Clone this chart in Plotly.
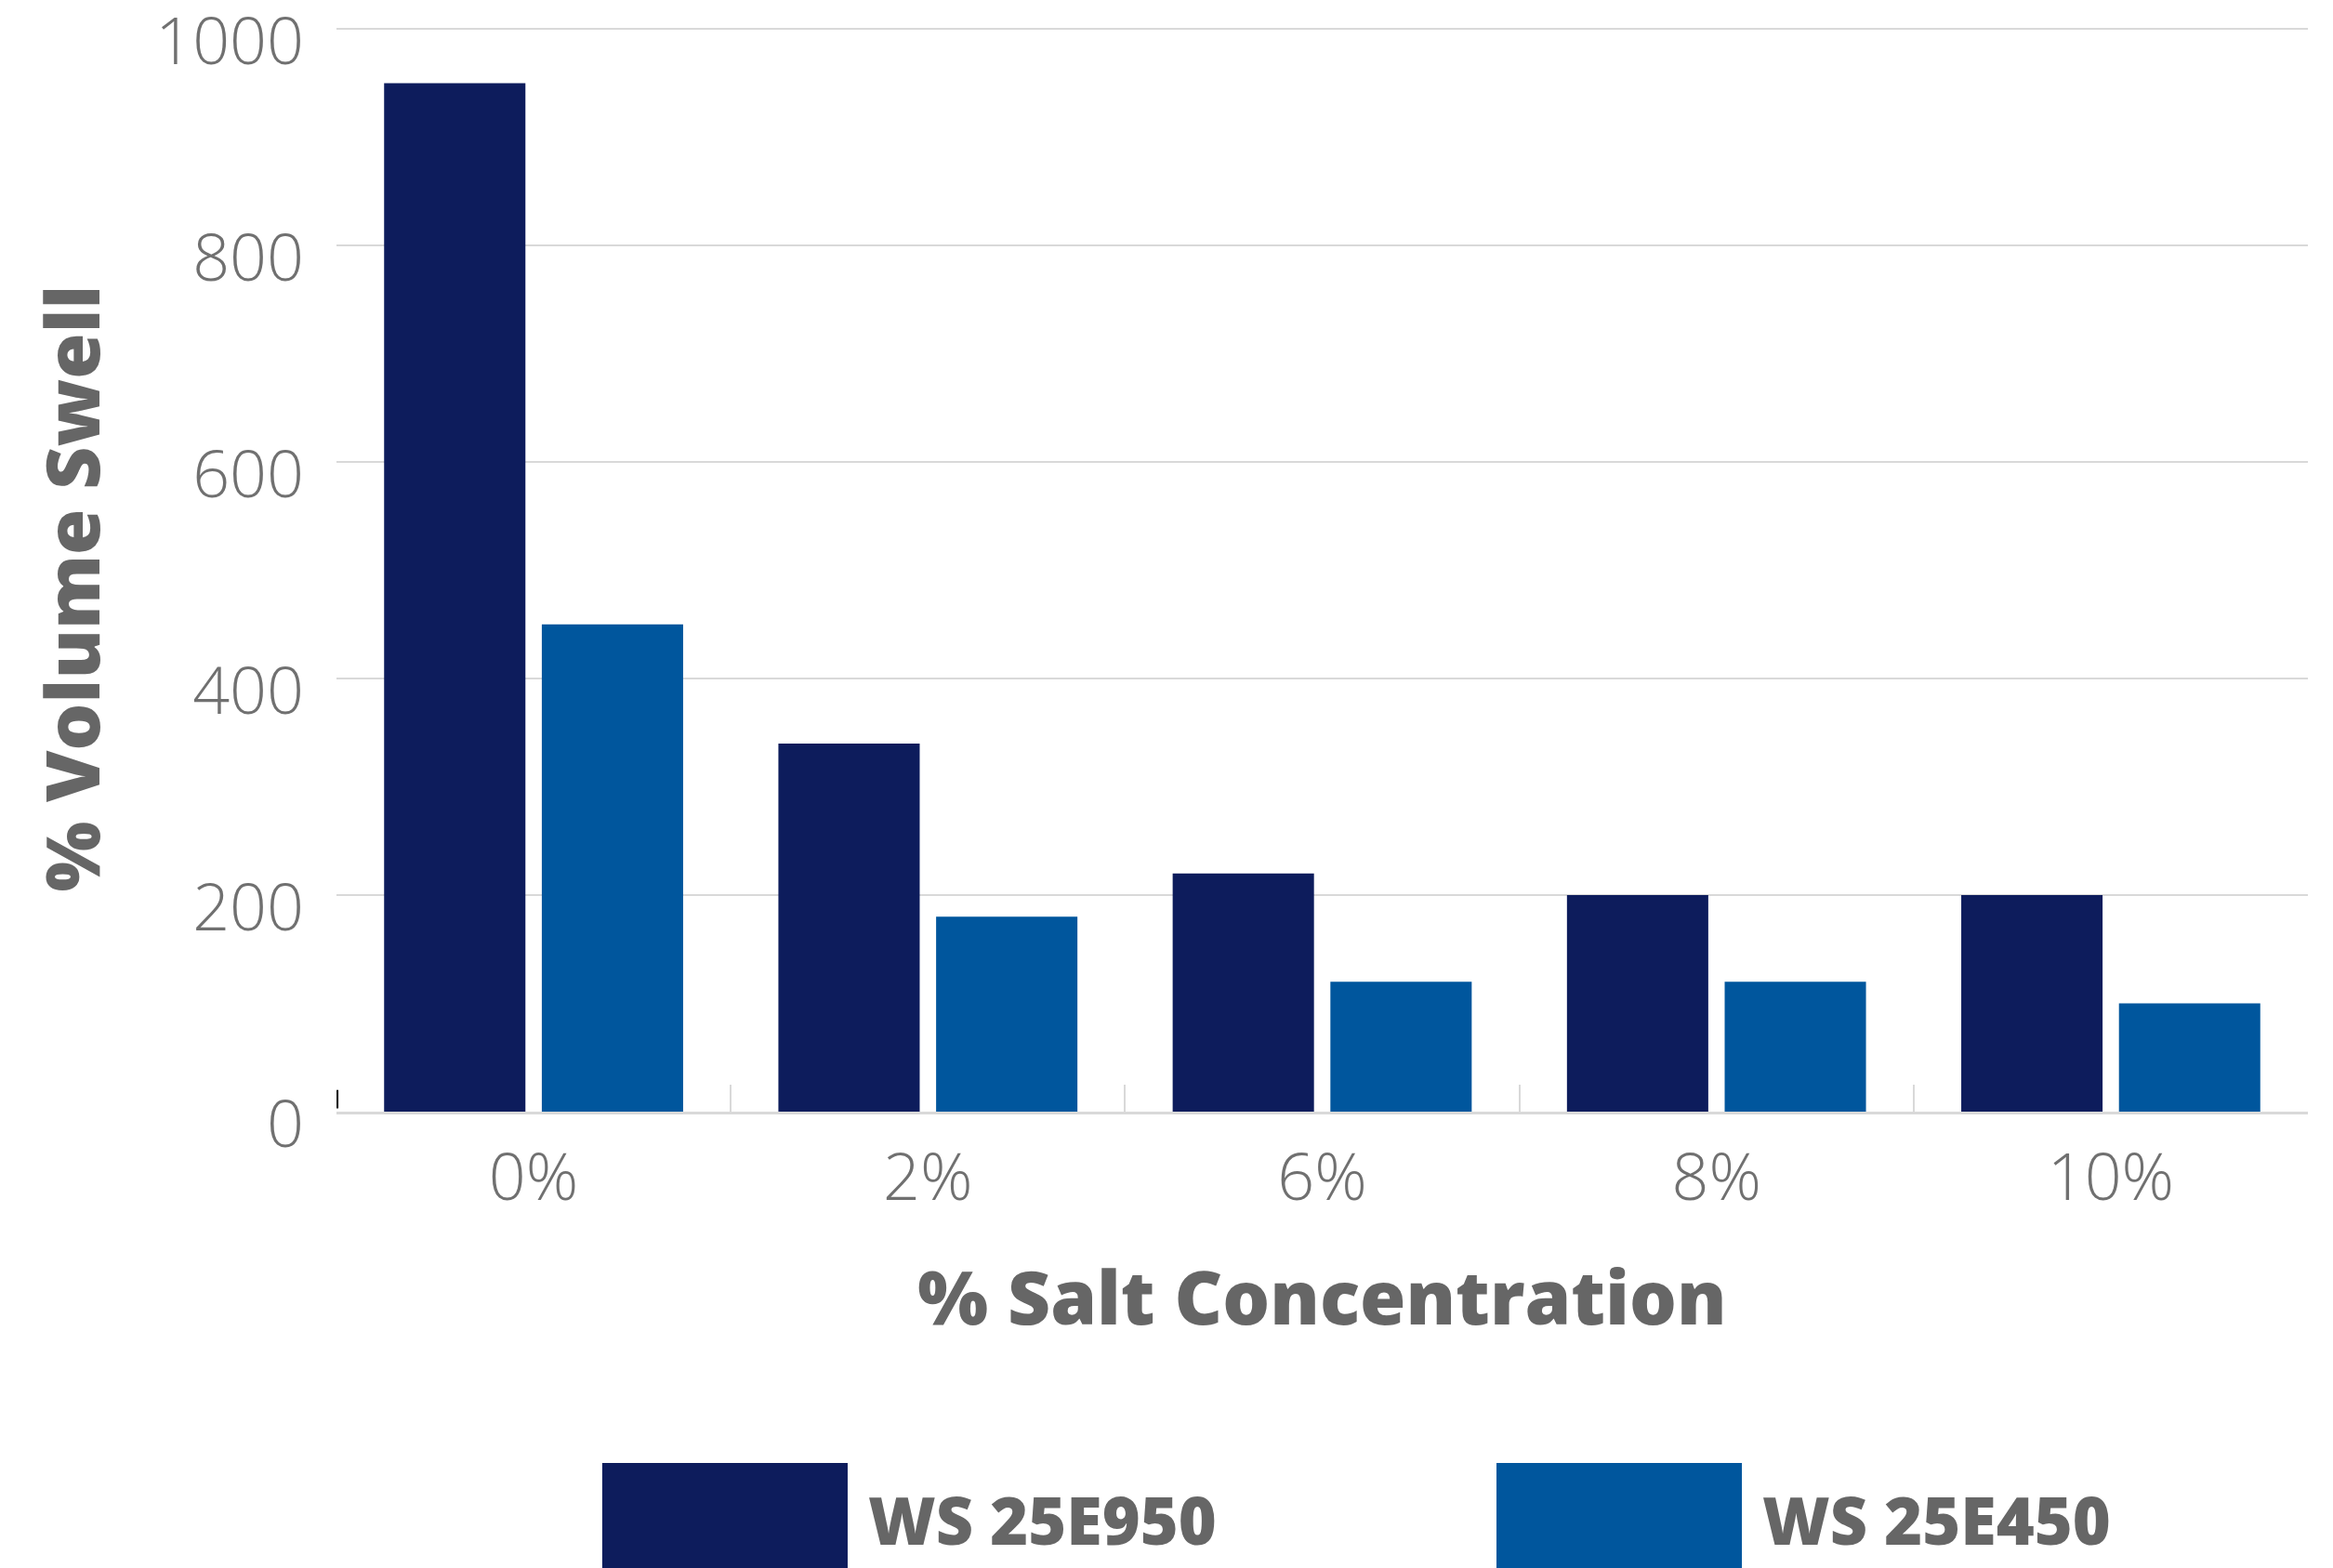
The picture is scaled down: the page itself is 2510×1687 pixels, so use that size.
import plotly.graph_objects as go

# Salt concentration categories and % volume swell for each grade
categories = ["0%", "2%", "6%", "8%", "10%"]
series_names = ["WS 25E950", "WS 25E450"]
swell_950 = [950, 340, 220, 200, 200]
swell_450 = [450, 180, 120, 120, 100]
y_ticks = [0, 200, 400, 600, 800, 1000]

colors = ["#0D1C5C", "#00569D"]
tick_font = dict(family="Open Sans", size=70, color="#707070", weight=300)
title_font = dict(family="Open Sans", size=80, color="#666666", weight=800)

fig = go.Figure()
for name, vals, col in zip(series_names, [swell_950, swell_450], colors):
    fig.add_trace(go.Bar(x=categories, y=vals, name=name, marker_color=col,
                         marker_line_width=0, showlegend=False))

fig.update_layout(
    width=2510, height=1687,
    margin=dict(l=362, r=27, t=30, b=491, autoexpand=False),
    paper_bgcolor="white", plot_bgcolor="white",
    barmode="group", bargap=0.2, bargroupgap=0.104,
    xaxis=dict(
        showgrid=False, showline=True, linecolor="#D9D9D9", linewidth=3,
        ticks="inside", tickson="boundaries", ticklen=29, tickwidth=2,
        tickcolor="#D9D9D9", tickfont=tick_font, ticklabelstandoff=8,
        automargin=False,
        title=dict(text="% Salt Concentration", font=title_font, standoff=58),
    ),
    yaxis=dict(
        range=[0, 1001], tickvals=y_ticks, showgrid=True, gridcolor="#D9D9D9",
        gridwidth=2, zeroline=False, showline=False, ticks="",
        tickfont=tick_font, ticklabelstandoff=34, ticklabelshift=13,
        ticklabeloverflow="allow", automargin=False,
    ),
)

# Short dark mark at the lower-left corner of the axis
fig.add_shape(type="line", xref="paper", yref="paper", x0=0.0005, x1=0.0005,
              y0=0.003, y1=0.02, line=dict(color="#000000", width=2))

# Y-axis title, rotated and placed left of the tick labels
fig.add_annotation(xref="paper", yref="paper", x=-0.1353, y=0.4824,
                   xanchor="center", yanchor="middle", showarrow=False,
                   textangle=-90, text="% Volume Swell", font=title_font)

# Legend: large colour swatches with series names below the axis title
legend_x = [0.1348, 0.5884]
for name, col, x0 in zip(series_names, colors, legend_x):
    fig.add_shape(type="rect", xref="paper", yref="paper",
                  x0=x0, x1=x0 + 0.1245, y0=-0.46, y1=-0.3242,
                  fillcolor=col, line_width=0, layer="above")
    fig.add_annotation(xref="paper", yref="paper", x=x0 + 0.134, y=-0.3768,
                       xanchor="left", yanchor="middle", showarrow=False,
                       text=name, font=dict(family="Open Sans", size=70,
                                            color="#666666", weight=800))

fig.write_html("out.html")
